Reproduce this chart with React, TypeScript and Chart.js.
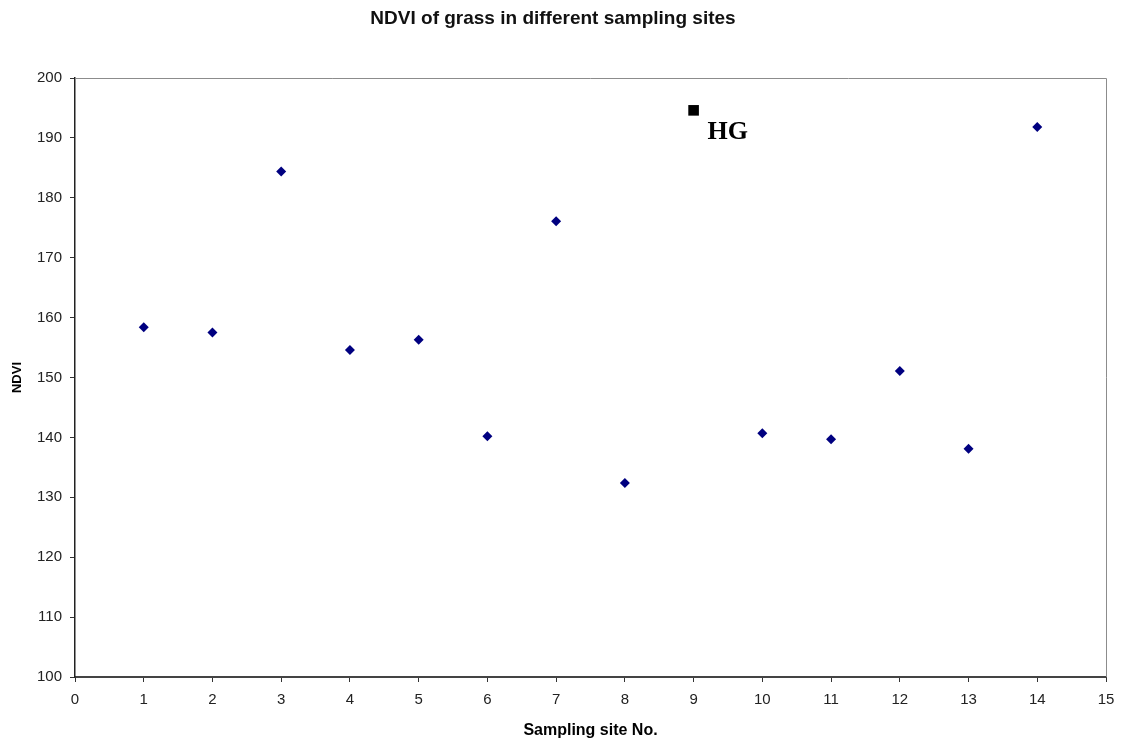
import React, { useEffect, useRef } from "react";
import { Chart, registerables } from "chart.js";

Chart.register(...registerables);

// Sampling sites and their NDVI values
const siteNumbers = [1, 2, 3, 4, 5, 6, 7, 8, 10, 11, 12, 13, 14];
const ndviValues = [158.4, 157.5, 184.4, 154.6, 156.3, 140.2, 176.1, 132.4, 140.7, 139.7, 151.1, 138.1, 191.8];

// Highlighted site
const hgSite = [9];
const hgValue = [194.6];
const hgLabel = "HG";

const chartTitle = "NDVI of grass in different sampling sites";
const xTitle = "Sampling site No.";
const yTitle = "NDVI";

// Draws the gray top/right frame lines and the label next to the highlighted point
const framePlugin = {
  id: "frameAndLabel",
  afterDatasetsDraw(chart: any) {
    const { ctx, chartArea } = chart;
    ctx.save();
    ctx.strokeStyle = "#8c8c8c";
    ctx.lineWidth = 1;
    ctx.beginPath();
    ctx.moveTo(chartArea.left, chartArea.top + 0.5);
    ctx.lineTo(chartArea.right + 0.5, chartArea.top + 0.5);
    ctx.lineTo(chartArea.right + 0.5, chartArea.bottom);
    ctx.stroke();

    const pt = chart.getDatasetMeta(1).data[0];
    if (pt) {
      ctx.fillStyle = "#000";
      ctx.font = 'bold 26px "Liberation Serif", "Times New Roman", serif';
      ctx.textAlign = "left";
      ctx.textBaseline = "middle";
      ctx.fillText(hgLabel, pt.x + 14, pt.y + 22);
    }
    ctx.restore();
  },
};

export default function App() {
  const canvasRef = useRef<HTMLCanvasElement | null>(null);

  useEffect(() => {
    const canvas = canvasRef.current;
    if (!canvas) return;
    const font = '"Liberation Sans", Arial, sans-serif';

    const chart = new Chart(canvas, {
      type: "scatter",
      data: {
        datasets: [
          {
            label: "NDVI",
            data: siteNumbers.map((s, i) => ({ x: s, y: ndviValues[i] })),
            backgroundColor: "#000080",
            borderColor: "#000080",
            borderWidth: 0,
            pointStyle: "rectRot",
            pointRadius: 5,
          },
          {
            label: hgLabel,
            data: hgSite.map((s, i) => ({ x: s, y: hgValue[i] })),
            backgroundColor: "#000",
            borderColor: "#000",
            borderWidth: 0,
            pointStyle: "rect",
            pointRadius: 7.5,
          },
        ],
      },
      options: {
        responsive: false,
        animation: false,
        layout: { padding: { left: 0, right: 19, top: 0, bottom: 0 } },
        plugins: {
          legend: { display: false },
          tooltip: { enabled: false },
          title: {
            display: true,
            text: chartTitle,
            color: "#111",
            font: { family: font, size: 19, weight: "bold" },
            padding: { top: 7, bottom: 48.2 },
          },
        },
        scales: {
          x: {
            type: "linear",
            min: 0,
            max: 15,
            ticks: { stepSize: 1, color: "#222", font: { family: font, size: 15 }, padding: 9 },
            grid: { display: true, drawOnChartArea: false, drawTicks: true, tickLength: 5, color: "#333" },
            border: { display: true, color: "#444", width: 2 },
            title: {
              display: true,
              text: xTitle,
              color: "#000",
              font: { family: font, size: 16, weight: "bold" },
              padding: { top: 0, bottom: 6 },
            },
            afterFit(scale: any) {
              scale.height = 69;
            },
          },
          y: {
            min: 100,
            max: 200,
            ticks: { stepSize: 10, color: "#222", font: { family: font, size: 15 }, padding: 8 },
            grid: { display: true, drawOnChartArea: false, drawTicks: true, tickLength: 5, color: "#333" },
            border: { display: true, color: "#222", width: 1.5 },
            title: {
              display: true,
              text: yTitle,
              color: "#000",
              font: { family: font, size: 13, weight: "bold" },
              padding: { top: 10, bottom: 0 },
            },
            afterFit(scale: any) {
              scale.width = 75;
            },
          },
        },
      },
      plugins: [framePlugin],
    });

    return () => chart.destroy();
  }, []);

  return (
    <div style={{ position: "fixed", left: 0, top: 0, width: 1125, height: 746, background: "#fff" }}>
      <canvas ref={canvasRef} width={1125} height={746} style={{ width: 1125, height: 746, display: "block" }} />
    </div>
  );
}
